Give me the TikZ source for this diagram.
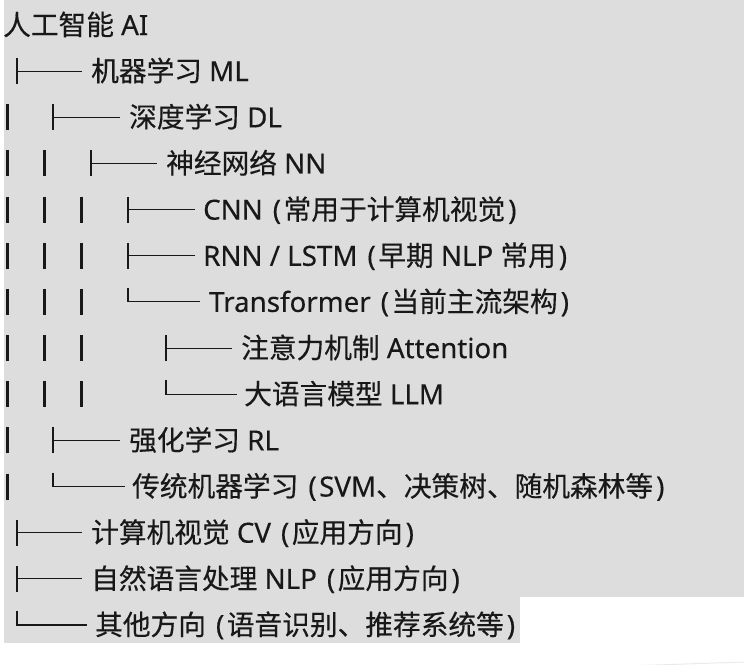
\documentclass[tikz,border=0pt]{standalone}
\usepackage{fontspec}
\setmainfont{Noto Sans}[RawFeature={embolden=0.35}]
\newfontfamily\cjfont{Noto Sans CJK SC}[RawFeature={embolden=0.35}]
\newcommand\zh[1]{{\cjfont #1}}
\newcommand\lpar{\hspace{2.8pt}(\hspace{2.5pt}}
\newcommand\rpar{\hspace{3pt})}
\definecolor{hl}{RGB}{221,221,221}
\definecolor{ink}{RGB}{24,24,24}
\definecolor{faint}{RGB}{234,234,234}
\begin{document}
\begin{tikzpicture}[x=1pt,y=-1pt,
  lbl/.style={anchor=base west,inner sep=0pt,text=ink,font=\fontsize{27.7}{30}\selectfont},
  thinln/.style={draw=ink,line width=1.1pt},
  pipe/.style={draw=ink,line width=3pt}]
\useasboundingbox (0,0) rectangle (744,664);
% highlight background
\fill[hl] (4,0) rectangle (744,597);
\fill[hl] (4,597) rectangle (520,643);
\draw[faint,line width=1pt] (25,674) arc[start angle=180,end angle=90,radius=12] -- (744,662);
% text nodes
\foreach \i/\x/\t in {
  0/3/{\zh{人工智能} AI},
  1/91/{\zh{机器学习} ML},
  2/129/{\zh{深度学习} DL},
  3/166/{\zh{神经网络} NN},
  4/203/{CNN \lpar\zh{常用于计算机视觉}\rpar},
  5/203/{RNN / LSTM \lpar\zh{早期} NLP \zh{常用}\rpar},
  6/209/{Transformer \lpar\zh{当前主流架构}\rpar},
  7/241/{\zh{注意力机制} Attention},
  8/244/{\zh{大语言模型} LLM},
  9/129/{\zh{强化学习} RL},
  10/132/{\zh{传统机器学习} \lpar SVM\zh{、决策树、随机森林等}\rpar},
  11/91/{\zh{计算机视觉} CV \lpar\zh{应用方向}\rpar},
  12/91/{\zh{自然语言处理} NLP \lpar\zh{应用方向}\rpar},
  13/95/{\zh{其他方向} \lpar\zh{语音识别、推荐系统等}\rpar}}
  \node[lbl] (n\i) at (\x,{25+46.15*\i+10}) {\t};
% vertical pipes
\foreach \i/\xs in {2/{7},3/{7,44},4/{7,44,81},5/{7,44,81},6/{7,44,81},7/{7,44,81},8/{7,44,81},9/{7},10/{7}}
  \foreach \px in \xs
    \draw[pipe] (\px,{25+46.15*\i-13}) -- (\px,{25+46.15*\i+13});
% tee branches
\foreach \i/\bx/\ex in {1/17/82,2/53/120,3/91/157,4/128/195,5/128/195,7/166/232,9/53/120,11/17/82,12/17/82}
  \draw[thinln] (\bx,{25+46.15*\i-13}) -- (\bx,{25+46.15*\i+13})
                (\bx,{25+46.15*\i}) -- (\ex,{25+46.15*\i});
% corner branches
\foreach \i/\bx/\ex in {6/128/200,8/166/237,10/53/125,13/17/87}
  \draw[thinln] (\bx,{25+46.15*\i-14}) -- (\bx,{25+46.15*\i}) -- (\ex,{25+46.15*\i});
\end{tikzpicture}
\end{document}
